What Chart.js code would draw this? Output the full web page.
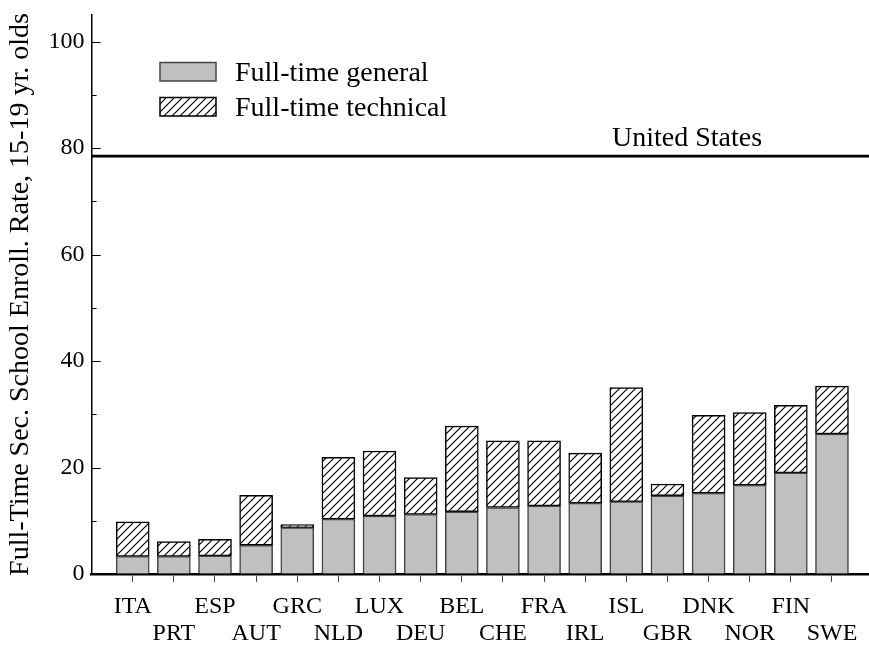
<!DOCTYPE html>
<html>
<head>
<meta charset="utf-8">
<script src="https://cdn.jsdelivr.net/npm/chart.js@4.4.1/dist/chart.umd.min.js"></script>
<style>
  html, body { margin: 0; padding: 0; background: #fff; }
  #chart { display: block; }
</style>
</head>
<body>
<canvas id="chart" width="869" height="650"></canvas>
<script>
// Countries in plotted order (left to right)
const countries = ['ITA', 'PRT', 'ESP', 'AUT', 'GRC', 'NLD', 'LUX', 'DEU', 'BEL',
                   'CHE', 'FRA', 'IRL', 'ISL', 'GBR', 'DNK', 'NOR', 'FIN', 'SWE'];

// Enrollment rates, % of 15-19 yr. olds
const generalRate   = [3.3, 3.3, 3.4, 5.4, 8.7, 10.3, 10.9, 11.2, 11.7,
                       12.5, 12.8, 13.3, 13.6, 14.7, 15.2, 16.7, 19.0, 26.3];
const technicalRate = [6.5, 2.8, 3.1, 9.4, 0.6, 11.6, 12.2, 6.9, 16.1,
                       12.5, 12.2, 9.4, 21.4, 2.2, 14.6, 13.6, 12.7, 9.0];

// United States reference level
const usRate = 78.5;

// Y axis tick values (labels every 20)
const yTicks = [0, 10, 20, 30, 40, 50, 60, 70, 80, 90, 100];

const serif = "'Liberation Serif', 'DejaVu Serif', serif";

// Diagonal hatch pattern for the technical bars
function makeHatch() {
    const size = 8;
    const c = document.createElement('canvas');
    c.width = size;
    c.height = size;
    const g = c.getContext('2d');
    g.fillStyle = '#fff';
    g.fillRect(0, 0, size, size);
    g.strokeStyle = '#000';
    g.lineWidth = 1.2;
    g.beginPath();
    g.moveTo(-1, size + 1); g.lineTo(size + 1, -1);
    g.moveTo(-1, 1); g.lineTo(1, -1);
    g.moveTo(size - 1, size + 1); g.lineTo(size + 1, size - 1);
    g.stroke();
    return g.createPattern(c, 'repeat');
}

const ctx = document.getElementById('chart').getContext('2d');
const hatch = makeHatch();

// Inward y ticks, US line and legend
const extras = {
    id: 'extras',
    afterDraw(chart) {
        const c = chart.ctx;
        const area = chart.chartArea;
        const y = chart.scales.y;

        c.save();
        c.strokeStyle = '#000';
        c.lineWidth = 1;
        yTicks.forEach(v => {
            const py = Math.round(y.getPixelForValue(v)) + 0.5;
            const len = v % 20 === 0 ? 9 : 5;
            c.beginPath();
            c.moveTo(area.left, py);
            c.lineTo(area.left + len, py);
            c.stroke();
        });

        // United States line
        const usY = y.getPixelForValue(usRate);
        c.lineWidth = 2.6;
        c.beginPath();
        c.moveTo(area.left, usY);
        c.lineTo(area.right, usY);
        c.stroke();
        c.fillStyle = '#000';
        c.font = '28px ' + serif;
        c.textAlign = 'center';
        c.textBaseline = 'alphabetic';
        c.fillText('United States', 687, usY - 10);

        // Legend
        const ds = chart.data.datasets;
        const rows = [81, 116];
        ds.forEach((d, i) => {
            const bottom = rows[i];
            c.fillStyle = d.backgroundColor;
            c.fillRect(160, bottom - 18.5, 56, 18.5);
            c.lineWidth = 1.5;
            c.strokeStyle = d.borderColor;
            c.strokeRect(160, bottom - 18.5, 56, 18.5);
            c.fillStyle = '#000';
            c.textAlign = 'left';
            c.font = '28px ' + serif;
            c.fillText(d.label, 235, bottom);
        });
        c.restore();
    }
};

new Chart(ctx, {
    type: 'bar',
    data: {
        datasets: [
            {
                label: 'Full-time general',
                data: generalRate.map((v, i) => ({ x: i, y: v })),
                backgroundColor: '#c0c0c0',
                borderColor: '#444',
                borderWidth: 1.5,
                borderSkipped: 'bottom',
                barThickness: 33
            },
            {
                label: 'Full-time technical',
                data: technicalRate.map((v, i) => ({ x: i, y: v })),
                backgroundColor: hatch,
                borderColor: '#000',
                borderWidth: 1.5,
                borderSkipped: false,
                barThickness: 33
            }
        ]
    },
    options: {
        responsive: false,
        animation: false,
        devicePixelRatio: 1,
        layout: { padding: { top: 3, right: 0, bottom: -8, left: 0 } },
        plugins: {
            legend: { display: false },
            tooltip: { enabled: false }
        },
        scales: {
            x: {
                type: 'linear',
                stacked: true,
                offset: false,
                min: -1,
                max: 17.9,
                afterBuildTicks: scale => {
                    scale.ticks = countries.map((c, i) => ({ value: i }));
                },
                grid: {
                    offset: false,
                    drawOnChartArea: false,
                    drawTicks: true,
                    tickLength: 8,
                    color: '#444'
                },
                border: { display: true, color: '#000', width: 2.5 },
                ticks: {
                    autoSkip: false,
                    maxRotation: 0,
                    minRotation: 0,
                    padding: 11,
                    color: '#000',
                    font: { family: serif, size: 24, lineHeight: 1.125 },
                    callback: value => {
                        const i = Math.round(value);
                        return i % 2 === 0 ? [countries[i], ''] : ['', countries[i]];
                    }
                }
            },
            y: {
                stacked: true,
                min: 0,
                max: 105,
                afterBuildTicks: scale => {
                    scale.ticks = yTicks.map(v => ({ value: v }));
                },
                grid: { drawOnChartArea: false, drawTicks: false },
                border: { display: true, color: '#000', width: 1.5 },
                ticks: {
                    padding: 7,
                    color: '#000',
                    font: { family: serif, size: 24, lineHeight: 0.67 },
                    callback: v => (v % 20 === 0 ? v : '')
                },
                title: {
                    display: true,
                    text: 'Full-Time Sec. School Enroll. Rate, 15-19 yr. olds',
                    color: '#000',
                    font: { family: serif, size: 28 },
                    padding: { top: 4, bottom: 4 }
                }
            }
        }
    },
    plugins: [extras]
});
</script>
</body>
</html>
